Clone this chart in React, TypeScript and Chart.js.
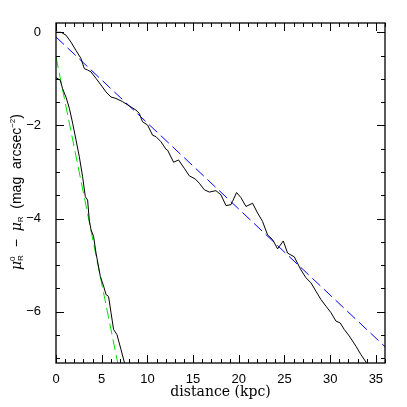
import React, { useEffect, useRef } from 'react';
import { Chart, registerables } from 'chart.js';

Chart.register(...registerables);

// Outer (shallow) profile
const outerX = [0, 0.55, 1.09, 1.64, 2.19, 2.73, 3.1, 3.46, 3.83, 4.38, 4.92, 5.47, 6.02, 6.56, 7.29, 8.02, 8.75, 9.11, 9.47, 10.02, 10.57, 10.94, 11.49, 12.03, 12.21, 12.87, 13.41, 14.04, 14.58, 15.24, 15.68, 16.23, 16.78, 17.5, 18.05, 18.6, 19.15, 19.32, 19.76, 20.24, 20.79, 21.51, 22.06, 22.6, 23.15, 23.7, 24.25, 24.43, 24.87, 25.34, 26.07, 26.8, 27.35, 27.9, 28.45, 29.0, 29.54, 30.09, 30.63, 31.1, 31.54, 32.09, 32.82, 33.37, 33.92, 34.3];
const outerY = [0, 0, -0.06, -0.21, -0.39, -0.56, -0.78, -0.81, -0.85, -0.99, -1.13, -1.28, -1.39, -1.42, -1.49, -1.58, -1.67, -1.74, -1.92, -1.99, -2.21, -2.24, -2.35, -2.51, -2.53, -2.79, -2.74, -2.92, -3.08, -3.15, -3.24, -3.38, -3.43, -3.4, -3.49, -3.72, -3.7, -3.63, -3.44, -3.55, -3.74, -3.67, -3.88, -4.06, -4.35, -4.45, -4.65, -4.6, -4.48, -4.74, -4.82, -5.1, -5.27, -5.38, -5.56, -5.74, -5.88, -6.02, -6.2, -6.24, -6.38, -6.52, -6.74, -6.92, -7.08, -7.2];

// Inner (steep) profile
const innerX = [0, 0.47, 0.72, 1.09, 1.46, 1.82, 2.19, 2.55, 2.91, 3.21, 3.46, 3.64, 3.83, 4.11, 4.38, 4.85, 5.21, 5.47, 5.75, 6.02, 6.3, 6.67, 7.11, 7.47, 7.6];
const innerY = [-0.97, -1.03, -1.21, -1.39, -1.63, -1.95, -2.31, -2.67, -3.1, -3.53, -3.6, -4.03, -4.24, -4.38, -4.74, -5.24, -5.45, -5.63, -5.67, -6.02, -6.38, -6.49, -6.81, -7.08, -7.2];

// Exponential fits (dashed)
const outerFitX = [0, 36];
const outerFitY = [-0.1, -6.75];
const innerFitX = [0, 7.3];
const innerFitY = [-0.53, -7.63];

const xTickValues = [0, 5, 10, 15, 20, 25, 30, 35];
const yTickValues = [0, -2, -4, -6];
const xTitle = 'distance (kpc)';

const toPts = (xs: number[], ys: number[]) => xs.map((x, i) => ({ x, y: ys[i] }));

const frameTicks = {
  id: 'frameTicks',
  afterDatasetsDraw(chart: any) {
    const { ctx, chartArea: a, scales } = chart;
    const xs = scales.x;
    const ys = scales.y;
    ctx.save();
    ctx.strokeStyle = '#000';
    ctx.lineWidth = 1;
    ctx.beginPath();
    for (let v = Math.ceil(xs.min); v <= xs.max; v += 1) {
      const px = Math.round(xs.getPixelForValue(v)) + 0.5;
      const len = v % 5 === 0 ? 8 : 4;
      ctx.moveTo(px, a.bottom);
      ctx.lineTo(px, a.bottom - len);
      ctx.moveTo(px, a.top);
      ctx.lineTo(px, a.top + len);
    }
    for (let v = Math.ceil(ys.min * 2) / 2; v <= ys.max; v += 0.5) {
      const py = Math.round(ys.getPixelForValue(v)) + 0.5;
      const len = Math.abs(v % 2) < 1e-9 ? 8 : 4;
      ctx.moveTo(a.left, py);
      ctx.lineTo(a.left + len, py);
      ctx.moveTo(a.right, py);
      ctx.lineTo(a.right - len, py);
    }
    ctx.stroke();
    ctx.lineWidth = 1.3;
    ctx.strokeRect(a.left, a.top, a.right - a.left, a.bottom - a.top);
    ctx.restore();
  },
};

const yTitle = {
  id: 'yTitle',
  afterDraw(chart: any) {
    const { ctx, chartArea: a } = chart;
    const big = '14px "Liberation Sans"';
    const bigIt = 'italic 14px "DejaVu Serif"';
    const small = '8px "Liberation Sans"';
    type Part = { t: string; f: string; dy: number; w?: number; stackNext?: boolean };
    const parts: Part[] = [
      { t: 'μ', f: bigIt, dy: 0 },
      { t: '0', f: small, dy: -6, stackNext: true },
      { t: 'R', f: small, dy: 2 },
      { t: '  −  ', f: big, dy: 0 },
      { t: 'μ', f: bigIt, dy: 0 },
      { t: 'R', f: small, dy: 2 },
      { t: '  (mag  arcsec', f: big, dy: 0 },
      { t: '−2', f: small, dy: -6 },
      { t: ')', f: big, dy: 0 },
    ];
    ctx.save();
    let total = 0;
    for (let i = 0; i < parts.length; i++) {
      const p = parts[i];
      ctx.font = p.f;
      p.w = ctx.measureText(p.t).width;
    }
    for (let i = 0; i < parts.length; i++) {
      const p = parts[i];
      if (p.stackNext) continue;
      const prev = i > 0 ? parts[i - 1] : null;
      if (prev && prev.stackNext) total += Math.max(prev.w || 0, p.w || 0);
      else total += p.w || 0;
    }
    const cy = (a.top + a.bottom) / 2 - 1;
    ctx.translate(21, cy);
    ctx.rotate(-Math.PI / 2);
    ctx.fillStyle = '#000';
    ctx.textBaseline = 'alphabetic';
    ctx.textAlign = 'left';
    let x = -total / 2;
    for (let i = 0; i < parts.length; i++) {
      const p = parts[i];
      ctx.font = p.f;
      ctx.fillText(p.t, x, p.dy);
      if (p.stackNext) continue;
      const prev = i > 0 ? parts[i - 1] : null;
      if (prev && prev.stackNext) x += Math.max(prev.w || 0, p.w || 0);
      else x += p.w || 0;
    }
    ctx.restore();
  },
};

export default function App() {
  const ref = useRef<HTMLCanvasElement>(null);
  useEffect(() => {
    if (!ref.current) return;
    const chart = new Chart(ref.current, {
      type: 'line',
      data: {
        datasets: [
          { data: toPts(outerX, outerY), borderColor: '#000', borderWidth: 1, pointRadius: 0, tension: 0 },
          { data: toPts(innerX, innerY), borderColor: '#000', borderWidth: 1, pointRadius: 0, tension: 0 },
          { data: toPts(outerFitX, outerFitY), borderColor: '#0000ff', borderWidth: 1, borderDash: [11, 5], pointRadius: 0 },
          { data: toPts(innerFitX, innerFitY), borderColor: '#00e000', borderWidth: 1, borderDash: [11, 5], pointRadius: 0 },
        ],
      },
      options: {
        animation: false,
        responsive: false,
        devicePixelRatio: 1,
        layout: { padding: { top: 23, right: 22, left: 0, bottom: 0 } },
        plugins: { legend: { display: false }, tooltip: { enabled: false } },
        scales: {
          x: {
            type: 'linear',
            min: 0,
            max: 36,
            grid: { display: false },
            border: { display: false },
            afterBuildTicks: (s: any) => { s.ticks = xTickValues.map((v) => ({ value: v })); },
            afterFit: (s: any) => { s.height = 44; },
            ticks: { color: '#000', font: { family: '"Liberation Sans"', size: 13 }, padding: 1, maxRotation: 0, autoSkip: false },
            title: { display: true, text: xTitle, color: '#000', font: { family: '"DejaVu Serif"', size: 14 }, padding: { top: 0, bottom: 6 } },
          },
          y: {
            type: 'linear',
            min: -7.1,
            max: 0.2,
            grid: { display: false },
            border: { display: false },
            afterBuildTicks: (s: any) => { s.ticks = yTickValues.map((v) => ({ value: v })); },
            afterFit: (s: any) => { s.width = 56; },
            ticks: {
              color: '#000',
              font: { family: '"Liberation Sans"', size: 13 },
              padding: 7,
              autoSkip: false,
              callback: (v: any) => (Number(v) < 0 ? '−' + Math.abs(Number(v)) : String(v)),
            },
          },
        },
      },
      plugins: [frameTicks, yTitle],
    });
    return () => chart.destroy();
  }, []);
  return (
    <div style={{ position: 'fixed', left: 0, top: 0, width: 407, height: 407, background: '#fff' }}>
      <canvas ref={ref} width={407} height={407} />
    </div>
  );
}
